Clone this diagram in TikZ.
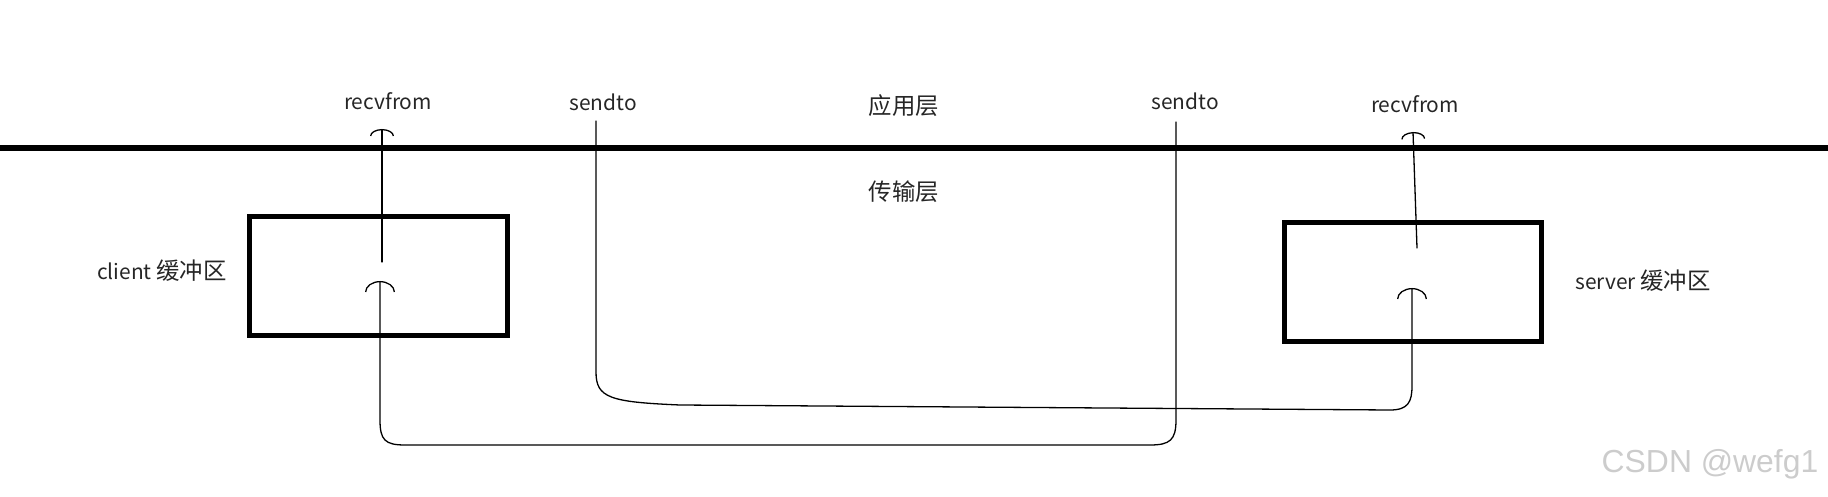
\documentclass[tikz,border=0pt]{standalone}
\usepackage{fontspec}
\setmainfont{Noto Sans CJK SC}
\newfontfamily\wmfont{Liberation Sans}
\newcommand\zhtxt[1]{{\fontsize{23.5}{26}\selectfont #1}}
\usetikzlibrary{arrows.meta}
\begin{document}
\begin{tikzpicture}[x=1bp,y=-1bp,
  lbl/.style={font=\fontsize{21}{25}\selectfont, inner sep=0pt, text=black!85},
  bufbox/.style={draw, line width=5bp, inner sep=0pt},
  flow/.style={line width=1.3bp, line cap=round},
  tipbig/.style={-{Arc Barb[width=30bp,length=11bp,line width=1.3bp]}},
  tipsmall/.style={-{Arc Barb[width=24bp,length=7bp,line width=1.3bp]}}]
\useasboundingbox (0,0) rectangle (1828,497);
% layer line
\coordinate (layL) at (0,148);
\coordinate (layR) at (1828,148);
\draw[line width=6bp] (layL) -- (layR);
% labels
\node[lbl] (recvL) at (388,101) {recvfrom};
\node[lbl] (sendL) at (603,102) {sendto};
\node[lbl] (app) at (904,106) {\zhtxt{应用层}};
\node[lbl] (sendR) at (1185,101) {sendto};
\node[lbl] (recvR) at (1415,104) {recvfrom};
\node[lbl] (trans) at (904,192) {\zhtxt{传输层}};
\node[lbl] (clab) at (162,271) {client \zhtxt{缓冲区}};
\node[lbl] (slab) at (1643,281) {server \zhtxt{缓冲区}};
\node[font=\wmfont\fontsize{32}{36}\selectfont, text=black!20, inner sep=0pt] (wm) at (1710,464) {CSDN @wefg1};
% buffers
\node[bufbox, minimum width=258bp, minimum height=119bp] (cbuf) at (378.5,276) {};
\node[bufbox, minimum width=257bp, minimum height=119bp] (sbuf) at (1413,282) {};
% connector end points
\coordinate (sLtop) at (596,121);
\coordinate (sRtop) at (1176,122);
\coordinate (cin) at (380,281);
\coordinate (sin) at (1412,288);
\coordinate (cout) at (382,262);
\coordinate (crecv) at (382,129);
\coordinate (sout) at (1417,248);
\coordinate (srecv) at (1413,132);
% server sendto -> client buffer
\draw[flow, tipbig] (sRtop) -- (sRtop |- 0,420) .. controls (1176,440) and (1170,445) .. (1150,445)
  -- (405,445) .. controls (385,445) and (380,440) .. (380,420) -- (cin);
% client sendto -> server buffer
\draw[flow, tipbig] (sLtop) -- (596,372) .. controls (596,398) and (610,402) .. (680,405)
  -- (1390,410) .. controls (1408,410) and (1412,402) .. (1412,386) -- (sin);
% buffers -> recvfrom
\draw[flow, tipsmall] (cout) -- (crecv);
\draw[flow, tipsmall] (sout) -- (srecv);
\end{tikzpicture}
\end{document}
